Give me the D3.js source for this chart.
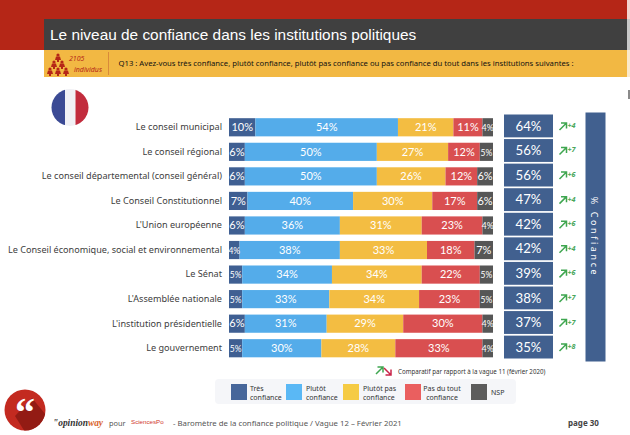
<!DOCTYPE html>
<html>
<head>
<meta charset="utf-8">
<script src="https://cdn.jsdelivr.net/npm/d3@7"></script>
<style>
  html, body { margin: 0; padding: 0; background: #fff; overflow: hidden; }
  svg { display: block; }
  .cat text { font-family: "Noto Sans", sans-serif; font-size: 9.1px; fill: #404040; }
  .cat path, .cat line { display: none; }
  .val { font-family: Lato, sans-serif; fill: #fff; text-anchor: middle; }
  .leg { font-family: "Noto Sans", sans-serif; font-size: 7px; fill: #333; }
</style>
</head>
<body>
<div id="chart"></div>
<script>
const institutions = [
    'Le conseil municipal',
    'Le conseil régional',
    'Le conseil départemental (conseil général)',
    'Le Conseil Constitutionnel',
    "L'Union européenne",
    'Le Conseil économique, social et environnemental',
    'Le Sénat',
    "L'Assemblée nationale",
    "L'institution présidentielle",
    'Le gouvernement'
];
const tresConfiance = [10, 6, 6, 7, 6, 4, 5, 5, 6, 5];
const plutotConfiance = [54, 50, 50, 40, 36, 38, 34, 33, 31, 30];
const plutotPasConfiance = [21, 27, 26, 30, 31, 33, 34, 34, 29, 28];
const pasDuTout = [11, 12, 12, 17, 23, 18, 22, 23, 30, 33];
const nsp = [4, 5, 6, 6, 4, 7, 5, 5, 4, 4];
const totalConfiance = [64, 56, 56, 47, 42, 42, 39, 38, 37, 35];
const evolution = [4, 7, 6, 4, 6, 4, 6, 7, 7, 8];

const seriesNames = ['tres', 'plutot', 'plutotPas', 'pasDuTout', 'nsp'];
const seriesValues = [tresConfiance, plutotConfiance, plutotPasConfiance, pasDuTout, nsp];
const seriesColors = ['#3f5f92', '#54acea', '#f3bd42', '#d94f50', '#565656'];
const legendColors = ['#46669a', '#5ab8f5', '#f5cb44', '#ea5f5f', '#5c5c5c'];
const legendLabels = [['Très', 'confiance'], ['Plutôt', 'confiance'], ['Plutôt pas', 'confiance'], ['Pas du tout', 'confiance'], ['NSP']];

const title = 'Le niveau de confiance dans les institutions politiques';
const question = 'Q13 : Avez-vous très confiance, plutôt confiance, plutôt pas confiance ou pas confiance du tout dans les institutions suivantes :';

const width = 630, height = 435;
const svg = d3.select('#chart').append('svg').attr('width', width).attr('height', height);

// header bands
svg.append('rect').attr('width', 627).attr('height', 50).attr('fill', '#b52617');
svg.append('rect').attr('x', 44).attr('y', 19).attr('width', 583).attr('height', 31).attr('fill', '#404040');
svg.append('rect').attr('x', 44).attr('y', 50).attr('width', 583).attr('height', 27).attr('fill', '#f2b843');
svg.append('rect').attr('x', 627).attr('width', 3).attr('height', 19).attr('fill', '#f4d3ce');
svg.append('rect').attr('x', 627).attr('y', 19).attr('width', 3).attr('height', 31).attr('fill', '#c8c8c8');
svg.append('rect').attr('x', 627).attr('y', 50).attr('width', 3).attr('height', 27).attr('fill', '#fbeacb');
svg.append('rect').attr('x', 628).attr('y', 90).attr('width', 2).attr('height', 9).attr('fill', '#8a8a8a');
svg.append('text').attr('x', 50).attr('y', 40).text(title)
    .attr('font-family', '"Liberation Sans", sans-serif').attr('font-size', 15.4).attr('fill', '#fff');
svg.append('text').attr('x', 118.5).attr('y', 66).text(question)
    .attr('font-family', '"Noto Sans", sans-serif').attr('font-size', 7.7).attr('fill', '#111');
svg.append('rect').attr('x', 108).attr('y', 52).attr('width', 1).attr('height', 23).attr('fill', '#d98a3a');

// little crowd pictogram
const people = [[58, 55], [54, 62], [62, 62], [50, 69], [58, 69], [66, 69]];
const crowd = svg.append('g').attr('fill', '#b52617');
people.forEach(p => {
    crowd.append('circle').attr('cx', p[0]).attr('cy', p[1]).attr('r', 1.6);
    crowd.append('path').attr('d', `M${p[0] - 3},${p[1] + 5}L${p[0] - 2},${p[1] + 1.5}H${p[0] + 2}L${p[0] + 3},${p[1] + 5}H${p[0] + 1}V${p[1] + 7}H${p[0] - 1}V${p[1] + 5}Z`);
});
svg.append('text').attr('x', 69).attr('y', 61).text('2105')
    .attr('font-family', '"Noto Sans", sans-serif').attr('font-size', 7).attr('font-style', 'italic').attr('fill', '#b52617');
svg.append('text').attr('x', 74).attr('y', 72).text('individus')
    .attr('font-family', '"Noto Sans", sans-serif').attr('font-size', 7).attr('font-style', 'italic').attr('fill', '#b52617');

// flag
const defs = svg.append('defs');
defs.append('clipPath').attr('id', 'flagClip').append('circle').attr('cx', 70).attr('cy', 107.5).attr('r', 18.5);
const flag = svg.append('g').attr('clip-path', 'url(#flagClip)');
flag.append('rect').attr('x', 51).attr('y', 89).attr('width', 14).attr('height', 37).attr('fill', '#3b4a94');
flag.append('rect').attr('x', 65).attr('y', 89).attr('width', 10.5).attr('height', 37).attr('fill', '#f1f1f5');
flag.append('rect').attr('x', 75.5).attr('y', 89).attr('width', 14).attr('height', 37).attr('fill', '#c22c3d');

// main stacked bars
const x = d3.scaleLinear().domain([0, 100]).range([229, 493]);
const y = d3.scaleBand().domain(institutions).range([115, 360.5]).paddingInner(0.26).paddingOuter(0.13);

svg.append('g').attr('class', 'cat')
    .attr('transform', 'translate(226,0)')
    .call(d3.axisLeft(y).tickSize(0).tickPadding(4));

const rows = institutions.map((name, i) => {
    let start = 0;
    return seriesValues.map((vals, s) => {
        const seg = { name, s, value: vals[i], start };
        start += vals[i];
        return seg;
    });
}).flat();

svg.append('g').selectAll('rect').data(rows).enter().append('rect')
    .attr('x', d => x(d.start))
    .attr('y', d => y(d.name))
    .attr('width', d => x(d.start + d.value) - x(d.start))
    .attr('height', y.bandwidth())
    .attr('fill', d => seriesColors[d.s]);

svg.append('g').selectAll('text').data(rows).enter().append('text')
    .attr('class', 'val')
    .attr('x', d => x(d.start + d.value / 2))
    .attr('y', d => y(d.name) + y.bandwidth() / 2 + 3.8)
    .attr('font-size', d => d.value <= 5 ? 8.5 : 11)
    .text(d => d.value + '%');

// total confidence boxes
const boxY = d3.scaleBand().domain(institutions).range([114.5, 358.5]).paddingInner(0.07);
svg.append('g').selectAll('rect').data(institutions).enter().append('rect')
    .attr('x', 504).attr('width', 49)
    .attr('y', d => boxY(d)).attr('height', boxY.bandwidth())
    .attr('fill', '#41608f');
svg.append('g').selectAll('text').data(institutions).enter().append('text')
    .attr('class', 'val').attr('x', 528.5)
    .attr('y', d => boxY(d) + boxY.bandwidth() / 2 + 4.6)
    .attr('font-size', 13.2)
    .text((d, i) => totalConfiance[i] + '%');

// evolution arrows
function arrow(g, x0, y0, color, down) {
    const dir = down ? 1 : -1;
    g.append('path')
        .attr('d', `M${x0},${y0}L${x0 + 6.5},${y0 + dir * 6.5}M${x0 + 1.5},${y0 + dir * 7}H${x0 + 7}V${y0 + dir * 1.5}`)
        .attr('fill', 'none').attr('stroke', color).attr('stroke-width', 1.5);
}
const evo = svg.append('g');
institutions.forEach((d, i) => {
    const cy = boxY(d) + boxY.bandwidth() / 2;
    arrow(evo, 559.5, cy + 4, '#3fa650', false);
    evo.append('text').attr('x', 567.5).attr('y', cy + 2)
        .attr('font-family', '"Noto Sans", sans-serif').attr('font-size', 7.2)
        .attr('font-style', 'italic').attr('font-weight', 700).attr('fill', '#4aa65a')
        .text('+' + evolution[i]);
});

// tall % confiance box
svg.append('rect').attr('x', 585.5).attr('y', 112.5).attr('width', 20).attr('height', 249).attr('fill', '#41608f');
svg.append('text')
    .attr('transform', 'translate(591,237) rotate(90)')
    .attr('text-anchor', 'middle')
    .attr('font-family', '"Noto Sans", sans-serif').attr('font-size', 9)
    .attr('letter-spacing', 2.6).attr('fill', '#fff')
    .text('% Confiance');

// comparison note
arrow(svg, 376, 374, '#3fa650', false);
arrow(svg, 384, 368, '#c9254a', true);
svg.append('text').attr('x', 398).attr('y', 374).text('Comparatif par rapport à la vague 11 (février 2020)')
    .attr('font-family', '"Noto Sans", sans-serif').attr('font-size', 6.2).attr('fill', '#333');

// legend
svg.append('rect').attr('x', 215).attr('y', 379).attr('width', 301).attr('height', 25).attr('rx', 4).attr('fill', '#f5f6f9');
const legendX = d3.scaleOrdinal().domain(seriesNames).range([231, 286, 343, 405, 471]);
const legendTextX = [250, 306, 363, 424, 491];
const legend = svg.append('g').selectAll('g').data(seriesNames).enter().append('g');
legend.append('rect')
    .attr('x', d => legendX(d)).attr('y', 384).attr('width', 16).attr('height', 16)
    .attr('fill', (d, i) => legendColors[i]);
legend.each(function (d, i) {
    const lines = legendLabels[i];
    const ly = lines.length === 1 ? 394.5 : 390.5;
    lines.forEach((t, j) => {
        const centred = i === 3;
        d3.select(this).append('text').attr('class', 'leg')
            .attr('x', centred ? 442 : legendTextX[i])
            .attr('text-anchor', centred ? 'middle' : 'start')
            .attr('y', ly + j * 9).text(t);
    });
});

// footer
const logoShadow = defs.append('clipPath').attr('id', 'logoClip');
logoShadow.append('circle').attr('cx', 25).attr('cy', 410).attr('r', 20.5);
svg.append('circle').attr('cx', 25).attr('cy', 410).attr('r', 20.5).attr('fill', '#c32a20');
svg.append('path').attr('clip-path', 'url(#logoClip)')
    .attr('d', 'M15,416L32,398L50,420L30,440Z').attr('fill', '#931b14');
svg.append('text').attr('x', 25).attr('y', 426).attr('text-anchor', 'middle').text('“')
    .attr('font-family', '"Liberation Serif", serif').attr('font-size', 40).attr('font-weight', 700).attr('fill', '#fff');

svg.append('text').attr('x', 53).attr('y', 426).text('"opinion')
    .attr('font-family', '"Liberation Serif", serif').attr('font-size', 9.4).attr('font-style', 'italic').attr('font-weight', 700).attr('fill', '#333')
    .append('tspan').text('way').attr('fill', '#d9622b');
svg.append('text').attr('x', 109).attr('y', 426).text('pour')
    .attr('font-family', '"Noto Sans", sans-serif').attr('font-size', 7.4).attr('fill', '#555');
svg.append('text').attr('x', 131).attr('y', 424).text('SciencesPo')
    .attr('font-family', '"Liberation Sans", sans-serif').attr('font-size', 6.2).attr('fill', '#d0342c');
svg.append('text').attr('x', 173).attr('y', 426).text('-  Baromètre de la confiance politique / Vague 12 – Février 2021')
    .attr('font-family', '"Noto Sans", sans-serif').attr('font-size', 7.8).attr('fill', '#555');
svg.append('text').attr('x', 568).attr('y', 426).text('page 30')
    .attr('font-family', '"Noto Sans", sans-serif').attr('font-size', 8).attr('font-weight', 700).attr('fill', '#444');
</script>
</body>
</html>
